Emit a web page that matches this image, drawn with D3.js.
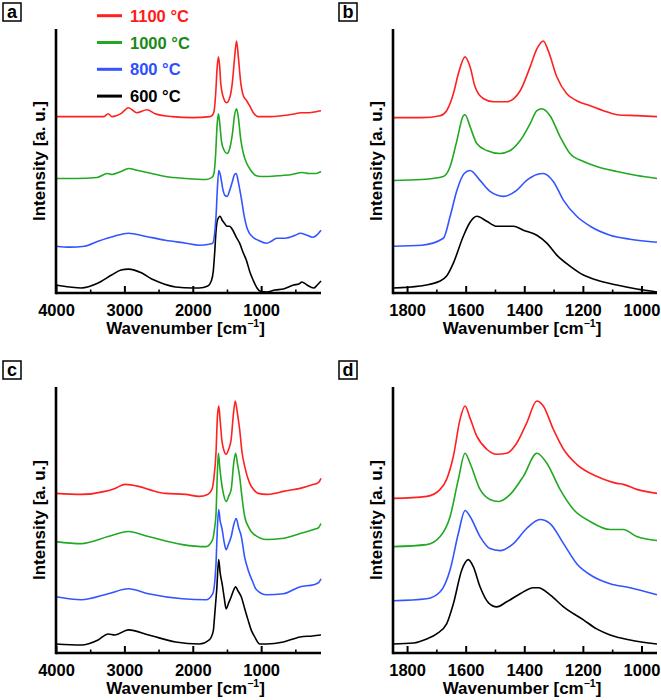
<!DOCTYPE html>
<html><head><meta charset="utf-8">
<script src="https://cdn.jsdelivr.net/npm/d3@7"></script>
<style>body{margin:0;background:#fff}svg{display:block}text{font-family:"Liberation Sans",Arial,sans-serif;font-weight:bold}</style>
</head><body>
<script>
// ---------- data ----------
const temperatures = ["1100 °C", "1000 °C", "800 °C", "600 °C"];
const seriesColors = ["#ff2020", "#22a822", "#3355ff", "#000000"];
const legendTextColors = ["#ff1a1a", "#1a8a1a", "#2f4fff", "#000000"];
const wideTicks = [4000, 3000, 2000, 1000];
const wideMinor = [3500, 2500, 1500, 500];
const narrowTicks = [1800, 1600, 1400, 1200, 1000];
const narrowMinor = [1700, 1500, 1300, 1100];
const panelLetters = ["a", "b", "c", "d"];

// panel a (full range)
const a1100 = [[4000,177],[3600,177],[3300,177],[3236,180],[3180,177],[3050,180],[2940,186],[2820,181],[2670,184],[2550,180],[2300,177],[2000,176],[1750,177],[1720,178],[1690,182],[1665,200],[1645,225],[1625,237],[1610,230],[1590,210],[1560,198],[1505,191],[1460,196],[1420,212],[1390,235],[1360,253],[1335,238],[1300,212],[1260,198],[1212,193],[1170,188],[1115,181],[1042,177],[900,177],[700,178],[500,180],[420,181],[300,181],[200,182],[125,183]];
const a1000 = [[4000,115],[3700,115],[3400,116],[3250,120],[3180,119],[3050,122],[2940,125],[2800,123],[2600,120],[2400,117],[2100,115],[1800,114],[1720,116],[1690,120],[1665,140],[1645,168],[1625,180],[1605,170],[1580,152],[1540,143],[1500,140],[1460,145],[1420,160],[1390,178],[1360,185],[1335,177],[1300,155],[1260,140],[1210,130],[1150,123],[1080,118],[1000,117],[900,117],[700,118],[550,119],[400,121],[300,120],[200,120],[125,122]];
const a800 = [[4000,47],[3800,46],[3580,47],[3384,52],[3150,57],[2941,60],[2700,57],[2400,53],[2100,50],[1906,48],[1760,49],[1709,50],[1680,60],[1660,77],[1640,105],[1620,123],[1595,118],[1560,104],[1530,98],[1498,97],[1460,103],[1420,112],[1390,119],[1365,120],[1330,110],[1290,95],[1250,78],[1200,64],[1120,56],[1044,53],[921,50],[850,52],[773,55],[650,55],[500,58],[429,60],[330,58],[250,56],[207,57],[160,60],[125,63]];
const a600 = [[4000,8],[3800,6],[3631,5],[3384,10],[3187,18],[3050,23],[2941,24],[2744,20],[2600,14],[2498,11],[2251,6],[2000,5],[1906,5],[1780,7],[1730,12],[1700,22],[1680,40],[1660,62],[1640,73],[1600,77],[1570,73],[1537,70],[1500,67],[1463,67],[1414,63],[1365,56],[1315,50],[1260,40],[1217,33],[1160,20],[1118,13],[1060,5],[1020,2],[921,1],[800,3],[675,4],[527,8],[450,9],[404,11],[330,8],[232,5],[180,8],[125,12]];

// panel b (zoomed)
const b1100 = [[1848,176],[1750,176],[1687,178],[1665,183],[1642,200],[1625,220],[1602,237],[1585,227],[1568,207],[1539,195],[1505,192],[1460,192],[1414,203],[1380,227],[1357,245],[1335,253],[1318,243],[1289,217],[1255,200],[1221,193],[1175,188],[1130,183],[1084,179],[1016,178],[947,177]];
const b1000 = [[1848,113],[1750,114],[1676,117],[1653,127],[1630,153],[1608,178],[1602,179],[1585,167],[1562,150],[1528,143],[1483,140],[1448,143],[1414,153],[1380,170],[1357,183],[1340,185],[1312,178],[1278,157],[1244,140],[1198,132],[1153,127],[1084,122],[1016,118],[947,115]];
const b800 = [[1848,47],[1750,48],[1676,55],[1653,77],[1630,103],[1605,120],[1585,123],[1551,113],[1517,102],[1471,97],[1426,103],[1392,113],[1357,119],[1335,120],[1301,112],[1266,93],[1221,77],[1175,67],[1107,58],[1039,54],[947,51]];
const b600 = [[1848,5],[1756,7],[1687,12],[1665,17],[1642,30],[1608,57],[1585,71],[1562,77],[1528,72],[1494,67],[1437,67],[1403,63],[1357,58],[1323,50],[1289,38],[1244,27],[1198,18],[1153,13],[1084,8],[1016,4],[947,1]];

// panel c (full range)
const c1100 = [[4000,159],[3631,158],[3286,161],[3138,164],[2990,168],[2793,166],[2600,162],[2399,159],[2103,158],[1906,156],[1783,158],[1720,163],[1690,175],[1660,200],[1640,235],[1620,246],[1600,232],[1575,212],[1545,202],[1512,198],[1475,203],[1438,213],[1410,235],[1379,251],[1350,240],[1315,223],[1280,200],[1241,186],[1167,169],[1100,162],[1044,159],[921,158],[800,159],[675,161],[429,164],[232,168],[160,170],[125,174]];
const c1000 = [[4000,111],[3631,109],[3237,116],[2941,121],[2650,116],[2150,108],[1808,106],[1709,113],[1680,125],[1660,139],[1640,180],[1626,199],[1605,185],[1586,173],[1550,158],[1512,151],[1470,157],[1438,163],[1400,190],[1374,199],[1345,188],[1315,176],[1280,155],[1241,136],[1180,125],[1118,119],[921,113],[700,114],[429,119],[232,123],[160,125],[125,129]];
const c800 = [[4000,56],[3631,53],[3237,59],[2941,64],[2650,59],[2150,54],[1808,53],[1709,59],[1680,70],[1660,89],[1640,125],[1621,143],[1600,132],[1570,123],[1540,110],[1512,103],[1480,108],[1438,116],[1400,128],[1365,134],[1330,125],[1290,116],[1240,95],[1192,83],[1130,72],[1069,63],[921,58],[675,59],[429,66],[232,68],[160,70],[125,74]];
const c600 = [[4000,9],[3631,8],[3384,13],[3236,19],[3138,18],[2941,23],[2645,18],[2251,11],[1906,9],[1759,13],[1700,22],[1685,33],[1650,63],[1621,93],[1600,80],[1571,69],[1540,55],[1512,44],[1475,50],[1438,56],[1400,63],[1374,66],[1340,62],[1291,56],[1240,44],[1192,33],[1140,22],[1094,16],[1020,9],[921,9],[675,11],[429,16],[250,17],[125,18]];

// panel d (zoomed)
const d1100 = [[1848,154],[1733,156],[1687,163],[1665,173],[1642,196],[1619,233],[1602,246],[1585,234],[1562,216],[1528,203],[1494,198],[1460,199],[1426,209],[1392,229],[1357,251],[1335,246],[1301,223],[1266,203],[1221,188],[1153,176],[1084,169],[1062,168],[1016,163],[947,159]];
const d1000 = [[1848,106],[1733,108],[1687,116],[1653,136],[1625,173],[1602,199],[1585,189],[1551,163],[1517,153],[1488,151],[1448,158],[1403,176],[1357,199],[1323,189],[1278,163],[1232,143],[1175,131],[1107,123],[1062,123],[1016,116],[947,112]];
const d800 = [[1848,52],[1733,54],[1687,61],[1653,83],[1625,119],[1602,142],[1585,136],[1551,116],[1517,104],[1483,102],[1437,109],[1392,124],[1346,133],[1312,129],[1266,109],[1221,89],[1164,76],[1107,69],[1039,65],[947,58]];
const d600 = [[1848,9],[1778,10],[1733,14],[1699,19],[1665,29],[1642,49],[1613,83],[1591,93],[1574,86],[1551,66],[1522,50],[1494,46],[1460,51],[1414,59],[1369,65],[1352,65],[1312,58],[1266,46],[1198,33],[1153,24],[1107,18],[1039,13],[947,9]];

const wideDomain = [4000, 125];
const narrowDomain = [1848, 947];
const intensityDomain = [0, 265];

// ---------- drawing ----------
const W = 661, H = 700;
const svg = d3.select("body").append("svg").attr("width", W).attr("height", H);

const panels = [
  {letter: panelLetters[0], series: [a1100, a1000, a800, a600], domain: wideDomain, major: wideTicks, minor: wideMinor, L: 56, R: 321, T: 29, B: 293, lx: 3, ly: 3, legend: true},
  {letter: panelLetters[1], series: [b1100, b1000, b800, b600], domain: narrowDomain, major: narrowTicks, minor: narrowMinor, L: 393, R: 657, T: 29, B: 293, lx: 339, ly: 3},
  {letter: panelLetters[2], series: [c1100, c1000, c800, c600], domain: wideDomain, major: wideTicks, minor: wideMinor, L: 56, R: 321, T: 387, B: 653, lx: 3, ly: 361},
  {letter: panelLetters[3], series: [d1100, d1000, d800, d600], domain: narrowDomain, major: narrowTicks, minor: narrowMinor, L: 393, R: 657, T: 387, B: 653, lx: 339, ly: 361}
];

panels.forEach(p => {
  const g = svg.append("g");
  const x = d3.scaleLinear().domain(p.domain).range([p.L, p.R]);
  const y = d3.scaleLinear().domain(intensityDomain).range([p.B, p.T]);

  // curves
  const line = d3.line().x(d => x(d[0])).y(d => y(d[1])).curve(d3.curveMonotoneX);
  p.series.slice().reverse().forEach((s, i) => {
    const idx = p.series.length - 1 - i;
    g.append("path").datum(s).attr("d", line)
      .attr("fill", "none").attr("stroke", seriesColors[idx])
      .attr("stroke-width", 1.6).attr("stroke-linejoin", "round");
  });

  // x axis (ticks inward)
  const xAxis = d3.axisBottom(x).tickValues(p.major).tickSize(-7).tickPadding(0).tickFormat(d3.format("d"));
  const ax = g.append("g").attr("transform", `translate(0,${p.B})`).call(xAxis);
  ax.select(".domain").remove();
  ax.selectAll(".tick line").attr("stroke", "#000").attr("stroke-width", 2);
  ax.selectAll(".tick text").attr("fill", "#000").attr("font-size", 16.5).attr("y", 22.5).attr("dy", 0);
  const axm = g.append("g").attr("transform", `translate(0,${p.B})`)
    .call(d3.axisBottom(x).tickValues(p.minor).tickSize(-3.5).tickFormat(""));
  axm.select(".domain").remove();
  axm.selectAll(".tick line").attr("stroke", "#000").attr("stroke-width", 1.6);

  // axis lines
  g.append("line").attr("x1", p.L).attr("x2", p.R).attr("y1", p.B).attr("y2", p.B)
    .attr("stroke", "#000").attr("stroke-width", 2.6);
  g.append("line").attr("x1", p.L).attr("x2", p.L).attr("y1", p.T).attr("y2", p.B + 1.3)
    .attr("stroke", "#000").attr("stroke-width", 2.6);

  // axis titles
  const xt = g.append("text").attr("x", (p.L + p.R) / 2 - 3).attr("y", p.B + 40.5)
    .attr("text-anchor", "middle").attr("font-size", 17).attr("fill", "#000");
  xt.append("tspan").text("Wavenumber [cm");
  xt.append("tspan").text("−1").attr("font-size", 10.5).attr("dy", -6.5);
  xt.append("tspan").text("]").attr("dy", 6.5);

  g.append("text").attr("transform", `translate(${p.L - 11},${(p.T + p.B) / 2}) rotate(-90)`)
    .attr("text-anchor", "middle").attr("font-size", 17).attr("fill", "#000")
    .text("Intensity [a. u.]");

  // panel letter box
  g.append("rect").attr("x", p.lx).attr("y", p.ly).attr("width", 18).attr("height", 18)
    .attr("fill", "#fff").attr("stroke", "#000").attr("stroke-width", 1.5);
  g.append("text").attr("x", p.lx + 9).attr("y", p.ly + 15).attr("text-anchor", "middle")
    .attr("font-size", 18).attr("fill", "#000").text(p.letter);

  // legend
  if (p.legend) {
    temperatures.forEach((t, i) => {
      const ly = 15.7 + i * 26.8;
      g.append("line").attr("x1", 97).attr("x2", 122).attr("y1", ly).attr("y2", ly)
        .attr("stroke", seriesColors[i]).attr("stroke-width", 3);
      g.append("text").attr("x", 130).attr("y", ly + 6).attr("font-size", 16.5)
        .attr("fill", legendTextColors[i]).text(t);
    });
  }
});
</script>
</body></html>
